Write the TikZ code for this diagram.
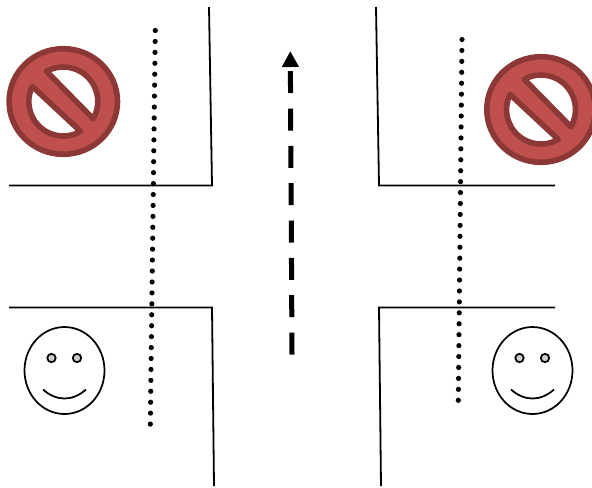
\documentclass[tikz,border=0pt]{standalone}
\usepackage{tikz}
\usetikzlibrary{arrows.meta}
\definecolor{signred}{RGB}{192,80,77}
\definecolor{signdark}{RGB}{140,56,54}
\definecolor{eyegray}{RGB}{204,204,204}
\tikzset{
  wall/.style={black, line width=1.35pt},
  dotline/.style={black, line width=3.9pt, line cap=round, dash pattern=on 0pt off 8.2pt},
  flow/.style={black, line width=3.75pt, dash pattern=on 16.5pt off 11.5pt, -{Triangle[length=12pt,width=12pt]}},
  signbody/.style={fill=signred, draw=signdark, line width=4.2pt},
  signhole/.style={fill=white, draw=signdark, line width=4.2pt, line join=round},
  facebody/.style={draw=black, line width=1.3pt},
  eye/.style={fill=eyegray, draw=black, line width=1.3pt},
  pics/nosign/.style={code={
    \draw[signbody] (0,0) ellipse [x radius=54.2, y radius=52.8];
    \draw[signhole] (-119:34.5) arc [start angle=-119, end angle=30, radius=34.5] -- cycle;
    \draw[signhole] (60:34.5) arc [start angle=60, end angle=206, radius=34.5] -- cycle;
  }},
  pics/smiley/.style={code={
    \draw[facebody] (0,0) ellipse [x radius=40, y radius=43.5];
    \draw[eye] (-13,-12.5) circle [radius=4.2];
    \draw[eye] (12.5,-12.5) circle [radius=4.2];
    \draw[facebody] (-21.5,19) .. controls (-8,31) and (8,31) .. (21.5,19);
  }}
}
\begin{document}
\begin{tikzpicture}[x=0.75pt,y=-0.75pt]
  \useasboundingbox (0,0) rectangle (592,487);
  % Walls of the crossing
  \draw[wall] (209,7) -- (212,185.5) -- (9,185.5);
  \draw[wall] (9,307.5) -- (212,307.5) -- (214,486);
  \draw[wall] (376,7) -- (379,185.5) -- (555,185.5);
  \draw[wall] (555,307.5) -- (379,307.5) -- (381,486);
  % Dotted paths
  \draw[dotline] (155.3,30.5) -- (150.3,426.5);
  \draw[dotline] (462,39.5) -- (458.3,402.5);
  % Arrow
  \draw[flow] (292,354.5) -- (290.3,51);
  % Signs
  \clip (0,0) rectangle (592,487);
  \pic at (63.3,101.5) {nosign};
  \pic at (541,109.5) {nosign};
  % Faces
  \pic at (64.5,370.5) {smiley};
  \pic at (532.5,370.5) {smiley};
\end{tikzpicture}
\end{document}
